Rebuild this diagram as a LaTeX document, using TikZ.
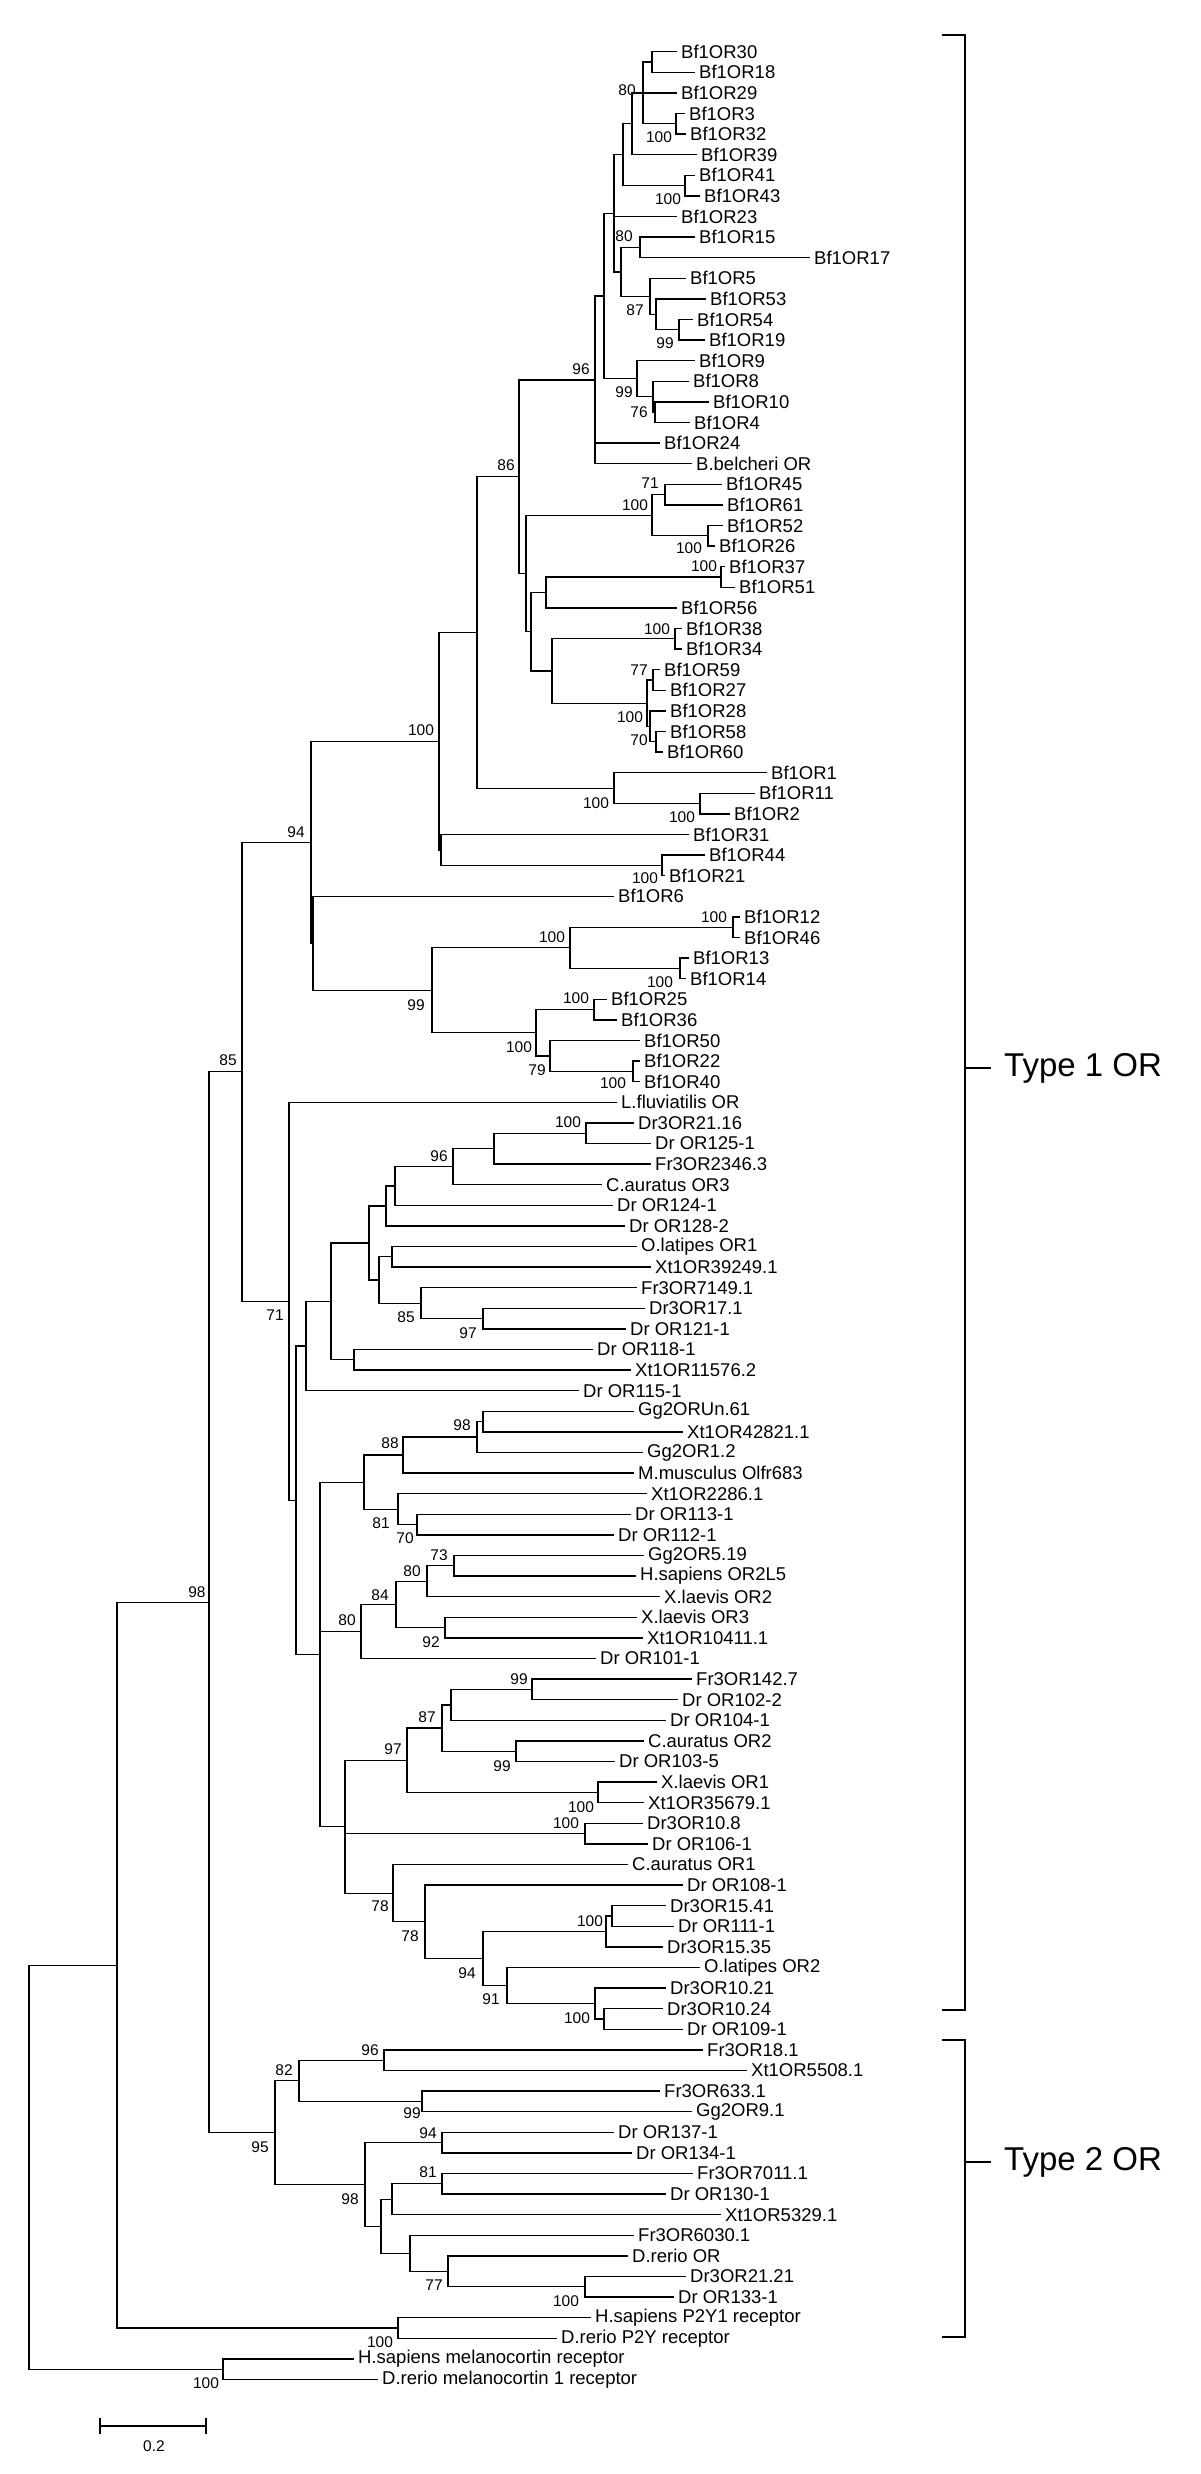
\documentclass[tikz,border=0pt]{standalone}
\usepackage{fontspec}
\setmainfont{Liberation Sans}
\newcommand\lf[4]{\coordinate (#1) at (#2,{31.1+20.6*#3}); \node[lbl] (#1t) at (#1) {#4};}
\newcommand\nd[3]{\coordinate (#1) at (#2,{31.1+20.6*(#3)});}
\newcommand\bs[4]{\node[bsl] (#1) at (#2,#3) {#4};}
\begin{document}
\begin{tikzpicture}[x=1pt,y=-1pt,
  edge/.style={line width=1.3pt,line cap=rect},
  lbl/.style={anchor=west,inner xsep=5pt,inner ysep=0pt,font=\fontsize{18.5}{20}\selectfont},
  bsl/.style={inner sep=0pt,font=\fontsize{15.5}{16}\selectfont},
  typel/.style={anchor=west,inner sep=0pt,font=\fontsize{33}{35}\selectfont}]
\useasboundingbox (0,0) rectangle (1200,2474);
% leaves
\lf{l1}{676}{1}{Bf1OR30}
\lf{l2}{694}{2}{Bf1OR18}
\lf{l3}{676}{3}{Bf1OR29}
\lf{l4}{684}{4}{Bf1OR3}
\lf{l5}{685}{5}{Bf1OR32}
\lf{l6}{696}{6}{Bf1OR39}
\lf{l7}{694}{7}{Bf1OR41}
\lf{l8}{699}{8}{Bf1OR43}
\lf{l9}{676}{9}{Bf1OR23}
\lf{l10}{694}{10}{Bf1OR15}
\lf{l11}{809}{11}{Bf1OR17}
\lf{l12}{685}{12}{Bf1OR5}
\lf{l13}{705}{13}{Bf1OR53}
\lf{l14}{692}{14}{Bf1OR54}
\lf{l15}{704}{15}{Bf1OR19}
\lf{l16}{694}{16}{Bf1OR9}
\lf{l17}{688}{17}{Bf1OR8}
\lf{l18}{708}{18}{Bf1OR10}
\lf{l19}{689}{19}{Bf1OR4}
\lf{l20}{659}{20}{Bf1OR24}
\lf{l21}{691}{21}{B.belcheri OR}
\lf{l22}{721}{22}{Bf1OR45}
\lf{l23}{722}{23}{Bf1OR61}
\lf{l24}{722}{24}{Bf1OR52}
\lf{l25}{714}{25}{Bf1OR26}
\lf{l26}{724}{26}{Bf1OR37}
\lf{l27}{734}{27}{Bf1OR51}
\lf{l28}{676}{28}{Bf1OR56}
\lf{l29}{681}{29}{Bf1OR38}
\lf{l30}{681}{30}{Bf1OR34}
\lf{l31}{659}{31}{Bf1OR59}
\lf{l32}{665}{32}{Bf1OR27}
\lf{l33}{665}{33}{Bf1OR28}
\lf{l34}{665}{34}{Bf1OR58}
\lf{l35}{662}{35}{Bf1OR60}
\lf{l36}{766}{36}{Bf1OR1}
\lf{l37}{754}{37}{Bf1OR11}
\lf{l38}{729}{38}{Bf1OR2}
\lf{l39}{688}{39}{Bf1OR31}
\lf{l40}{704}{40}{Bf1OR44}
\lf{l41}{664}{41}{Bf1OR21}
\lf{l42}{613}{42}{Bf1OR6}
\lf{l43}{739}{43}{Bf1OR12}
\lf{l44}{739}{44}{Bf1OR46}
\lf{l45}{688}{45}{Bf1OR13}
\lf{l46}{685}{46}{Bf1OR14}
\lf{l47}{606}{47}{Bf1OR25}
\lf{l48}{616}{48}{Bf1OR36}
\lf{l49}{639}{49}{Bf1OR50}
\lf{l50}{639}{50}{Bf1OR22}
\lf{l51}{639}{51}{Bf1OR40}
\lf{l52}{616}{52}{L.fluviatilis OR}
\lf{l53}{633}{53}{Dr3OR21.16}
\lf{l54}{650}{54}{Dr OR125-1}
\lf{l55}{650}{55}{Fr3OR2346.3}
\lf{l56}{601}{56}{C.auratus OR3}
\lf{l57}{612}{57}{Dr OR124-1}
\lf{l58}{624}{58}{Dr OR128-2}
\lf{l59}{636}{59}{O.latipes OR1}
\lf{l60}{650}{60}{Xt1OR39249.1}
\lf{l61}{636}{61}{Fr3OR7149.1}
\lf{l62}{644}{62}{Dr3OR17.1}
\lf{l63}{625}{63}{Dr OR121-1}
\lf{l64}{592}{64}{Dr OR118-1}
\lf{l65}{630}{65}{Xt1OR11576.2}
\lf{l66}{578}{66}{Dr OR115-1}
\lf{l67}{633}{67}{Gg2ORUn.61}
\lf{l68}{682}{68}{Xt1OR42821.1}
\lf{l69}{642}{69}{Gg2OR1.2}
\lf{l70}{633}{70}{M.musculus Olfr683}
\lf{l71}{646}{71}{Xt1OR2286.1}
\lf{l72}{630}{72}{Dr OR113-1}
\lf{l73}{613}{73}{Dr OR112-1}
\lf{l74}{643}{74}{Gg2OR5.19}
\lf{l75}{635}{75}{H.sapiens OR2L5}
\lf{l76}{659}{76}{X.laevis OR2}
\lf{l77}{636}{77}{X.laevis OR3}
\lf{l78}{642}{78}{Xt1OR10411.1}
\lf{l79}{595}{79}{Dr OR101-1}
\lf{l80}{691}{80}{Fr3OR142.7}
\lf{l81}{677}{81}{Dr OR102-2}
\lf{l82}{665}{82}{Dr OR104-1}
\lf{l83}{643}{83}{C.auratus OR2}
\lf{l84}{614}{84}{Dr OR103-5}
\lf{l85}{656}{85}{X.laevis OR1}
\lf{l86}{643}{86}{Xt1OR35679.1}
\lf{l87}{642}{87}{Dr3OR10.8}
\lf{l88}{647}{88}{Dr OR106-1}
\lf{l89}{627}{89}{C.auratus OR1}
\lf{l90}{682}{90}{Dr OR108-1}
\lf{l91}{665}{91}{Dr3OR15.41}
\lf{l92}{673}{92}{Dr OR111-1}
\lf{l93}{662}{93}{Dr3OR15.35}
\lf{l94}{699}{94}{O.latipes OR2}
\lf{l95}{665}{95}{Dr3OR10.21}
\lf{l96}{662}{96}{Dr3OR10.24}
\lf{l97}{682}{97}{Dr OR109-1}
\lf{l98}{702}{98}{Fr3OR18.1}
\lf{l99}{746}{99}{Xt1OR5508.1}
\lf{l100}{659}{100}{Fr3OR633.1}
\lf{l101}{691}{101}{Gg2OR9.1}
\lf{l102}{613}{102}{Dr OR137-1}
\lf{l103}{631}{103}{Dr OR134-1}
\lf{l104}{692}{104}{Fr3OR7011.1}
\lf{l105}{665}{105}{Dr OR130-1}
\lf{l106}{720}{106}{Xt1OR5329.1}
\lf{l107}{633}{107}{Fr3OR6030.1}
\lf{l108}{627}{108}{D.rerio OR}
\lf{l109}{685}{109}{Dr3OR21.21}
\lf{l110}{673}{110}{Dr OR133-1}
\lf{l111}{590}{111}{H.sapiens P2Y1 receptor}
\lf{l112}{556}{112}{D.rerio P2Y receptor}
\lf{l113}{353}{113}{H.sapiens melanocortin receptor}
\lf{l114}{377}{114}{D.rerio melanocortin 1 receptor}
% internal nodes
\nd{n3032}{652}{1.5}
\nd{n0332}{676}{4.5}
\nd{u}{643}{3}
\nd{v}{632}{4.5}
\nd{n4143}{685}{7.5}
\nd{w}{623}{6}
\nd{n1517}{640}{10.5}
\nd{n5419}{679}{14.5}
\nd{n87}{656}{13.75}
\nd{n5}{650}{12.875}
\nd{xx}{621}{11.6875}
\nd{yy}{614}{8.84375}
\nd{n104}{655}{18.5}
\nd{n8}{653}{17.75}
\nd{tt}{637}{16.875}
\nd{zz}{604}{12.859}
\nd{qq}{595}{16.93}
\nd{n4561}{665}{22.5}
\nd{n5226}{708}{24.5}
\nd{aa}{652}{23.5}
\nd{n3751}{721}{26.5}
\nd{ab}{546}{27.25}
\nd{n3834}{675}{29.5}
\nd{n5927}{653}{31.5}
\nd{n5860}{656}{34.5}
\nd{n28}{650}{33.75}
\nd{ad}{647}{32.625}
\nd{ac}{552}{31.06}
\nd{rtwo}{531}{29.16}
\nd{rr}{526}{26.33}
\nd{nn}{519}{21.63}
\nd{n112}{700}{37.5}
\nd{oo}{614}{36.75}
\nd{mm}{477}{29.19}
\nd{n4421}{662}{40.5}
\nd{lp}{441}{39.75}
\nd{ll}{439}{34.47}
\nd{n1246}{733}{43.5}
\nd{n1314}{680}{45.5}
\nd{gg}{570}{44.5}
\nd{n2536}{594}{47.5}
\nd{n2240}{633}{50.5}
\nd{jj}{550}{49.75}
\nd{hh}{536}{48.625}
\nd{ff}{432}{46.5625}
\nd{ee}{313}{44.28}
\nd{dd}{311}{39.375}
\nd{n100a}{586}{53.5}
\nd{xtwo}{494}{54.25}
\nd{n96}{453}{55.125}
\nd{am}{395}{56.06}
\nd{al}{386}{57.03}
\nd{nol}{392}{59.5}
\nd{n97}{483}{62.5}
\nd{n85}{421}{61.75}
\nd{an}{379}{60.625}
\nd{aj}{369}{58.83}
\nd{ak}{354}{64.5}
\nd{ai}{331}{61.66}
\nd{ag}{306}{63.83}
\nd{n6768}{483}{67.5}
\nd{n98a}{477}{68.25}
\nd{n88}{403}{69.125}
\nd{n70}{417}{72.5}
\nd{n81}{398}{71.75}
\nd{ao}{364}{70.44}
\nd{n73}{454}{74.5}
\nd{n80b}{427}{75.25}
\nd{n92}{445}{77.5}
\nd{n84}{396}{76.375}
\nd{n80}{361}{77.69}
\nd{n99a}{532}{80.5}
\nd{aq}{451}{81.25}
\nd{n99b}{516}{83.5}
\nd{n87b}{442}{82.375}
\nd{n100c}{598}{85.5}
\nd{n97b}{407}{83.94}
\nd{n100d}{585}{87.5}
\nd{n15}{612}{91.5}
\nd{n100e}{606}{92.25}
\nd{n1024}{604}{96.5}
\nd{n100f}{595}{95.75}
\nd{n91}{507}{94.875}
\nd{n94}{483}{93.56}
\nd{n78b}{425}{91.78}
\nd{n78}{393}{90.39}
\nd{ar}{345}{87.17}
\nd{ah}{320}{78.8}
\nd{af}{296}{71.32}
\nd{n71}{289}{61.66}
\nd{cc}{242}{50.52}
\nd{n96c}{384}{98.5}
\nd{n99c}{422}{100.5}
\nd{n82}{299}{99.5}
\nd{n94c}{442}{102.5}
\nd{n81c}{442}{104.5}
\nd{nat}{392}{105.25}
\nd{n100g}{585}{109.5}
\nd{n77}{448}{108.75}
\nd{nau}{410}{107.875}
\nd{nas}{381}{106.56}
\nd{n98c}{365}{104.53}
\nd{n95}{275}{102.02}
\nd{bb}{209}{76.27}
\nd{np2y}{398}{111.5}
\nd{na}{117}{93.89}
\nd{nmc}{223}{113.5}
\nd{root}{29}{103.7}
% branches
\foreach \p/\c in {n3032/l1,n3032/l2,n0332/l4,n0332/l5,u/n3032,u/l3,u/n0332,v/u,v/l6,
 n4143/l7,n4143/l8,w/v,w/n4143,n1517/l10,n1517/l11,n5419/l14,n5419/l15,n87/l13,n87/n5419,
 n5/l12,n5/n87,xx/n1517,xx/n5,yy/w,yy/l9,yy/xx,n104/l18,n104/l19,n8/l17,n8/n104,tt/l16,tt/n8,
 zz/yy,zz/tt,qq/zz,qq/l20,qq/l21,n4561/l22,n4561/l23,n5226/l24,n5226/l25,aa/n4561,aa/n5226,
 n3751/l26,n3751/l27,ab/n3751,ab/l28,n3834/l29,n3834/l30,n5927/l31,n5927/l32,n5860/l34,n5860/l35,
 n28/l33,n28/n5860,ad/n5927,ad/n28,ac/n3834,ac/ad,rtwo/ab,rtwo/ac,rr/aa,rr/rtwo,nn/qq,nn/rr,
 n112/l37,n112/l38,oo/l36,oo/n112,mm/nn,mm/oo,n4421/l40,n4421/l41,lp/l39,lp/n4421,ll/mm,ll/lp,
 n1246/l43,n1246/l44,n1314/l45,n1314/l46,gg/n1246,gg/n1314,n2536/l47,n2536/l48,n2240/l50,n2240/l51,
 jj/l49,jj/n2240,hh/n2536,hh/jj,ff/gg,ff/hh,ee/l42,ee/ff,dd/ll,dd/ee,
 n100a/l53,n100a/l54,xtwo/n100a,xtwo/l55,n96/xtwo,n96/l56,am/n96,am/l57,al/am,al/l58,
 nol/l59,nol/l60,n97/l62,n97/l63,n85/l61,n85/n97,an/nol,an/n85,aj/al,aj/an,ak/l64,ak/l65,
 ai/aj,ai/ak,ag/ai,ag/l66,n6768/l67,n6768/l68,n98a/n6768,n98a/l69,n88/n98a,n88/l70,
 n70/l72,n70/l73,n81/l71,n81/n70,ao/n88,ao/n81,n73/l74,n73/l75,n80b/n73,n80b/l76,
 n92/l77,n92/l78,n84/n80b,n84/n92,n80/n84,n80/l79,n99a/l80,n99a/l81,aq/n99a,aq/l82,
 n99b/l83,n99b/l84,n87b/aq,n87b/n99b,n100c/l85,n100c/l86,n97b/n87b,n97b/n100c,
 n100d/l87,n100d/l88,n15/l91,n15/l92,n100e/n15,n100e/l93,n1024/l96,n1024/l97,
 n100f/l95,n100f/n1024,n91/l94,n91/n100f,n94/n100e,n94/n91,n78b/l90,n78b/n94,n78/l89,n78/n78b,
 ar/n97b,ar/n100d,ar/n78,ah/ao,ah/n80,ah/ar,af/ag,af/ah,n71/l52,n71/af,cc/dd,cc/n71,
 n96c/l98,n96c/l99,n99c/l100,n99c/l101,n82/n96c,n82/n99c,n94c/l102,n94c/l103,
 n81c/l104,n81c/l105,nat/n81c,nat/l106,n100g/l109,n100g/l110,n77/l108,n77/n100g,
 nau/l107,nau/n77,nas/nat,nas/nau,n98c/n94c,n98c/nas,n95/n82,n95/n98c,bb/cc,bb/n95,
 np2y/l111,np2y/l112,na/bb,na/np2y,nmc/l113,nmc/l114,root/na,root/nmc}
 {\draw[edge] (\p) |- (\c);}
% bootstrap values
\bs{b1}{627}{90}{80}
\bs{b2}{659}{137}{100}
\bs{b3}{668}{199}{100}
\bs{b4}{624}{236}{80}
\bs{b5}{635}{310}{87}
\bs{b6}{665}{343}{99}
\bs{b7}{581}{369}{96}
\bs{b8}{624}{392}{99}
\bs{b9}{639}{412}{76}
\bs{b10}{506}{465}{86}
\bs{b11}{650}{483}{71}
\bs{b12}{635}{505}{100}
\bs{b13}{689}{548}{100}
\bs{b14}{704}{566}{100}
\bs{b15}{657}{629}{100}
\bs{b16}{639}{670}{77}
\bs{b17}{630}{717}{100}
\bs{b18}{639}{740}{70}
\bs{b19}{421}{730}{100}
\bs{b20}{596}{803}{100}
\bs{b21}{682}{817}{100}
\bs{b22}{296}{832}{94}
\bs{b23}{645}{878}{100}
\bs{b24}{714}{917}{100}
\bs{b25}{552}{937}{100}
\bs{b26}{660}{982}{100}
\bs{b27}{576}{998}{100}
\bs{b28}{416}{1005}{99}
\bs{b29}{519}{1047}{100}
\bs{b30}{228}{1060}{85}
\bs{b31}{537}{1070}{79}
\bs{b32}{613}{1083}{100}
\bs{b33}{568}{1122}{100}
\bs{b34}{439}{1156}{96}
\bs{b35}{275}{1315}{71}
\bs{b36}{406}{1317}{85}
\bs{b37}{468}{1333}{97}
\bs{b38}{462}{1425}{98}
\bs{b39}{390}{1443}{88}
\bs{b40}{381}{1523}{81}
\bs{b41}{405}{1538}{70}
\bs{b42}{439}{1555}{73}
\bs{b43}{412}{1571}{80}
\bs{b44}{380}{1595}{84}
\bs{b45}{197}{1592}{98}
\bs{b46}{347}{1620}{80}
\bs{b47}{431}{1642}{92}
\bs{b48}{519}{1679}{99}
\bs{b49}{427}{1717}{87}
\bs{b50}{393}{1749}{97}
\bs{b51}{502}{1766}{99}
\bs{b52}{581}{1807}{100}
\bs{b53}{566}{1823}{100}
\bs{b54}{380}{1906}{78}
\bs{b55}{590}{1921}{100}
\bs{b56}{410}{1936}{78}
\bs{b57}{467}{1973}{94}
\bs{b58}{491}{1999}{91}
\bs{b59}{577}{2018}{100}
\bs{b60}{370}{2050}{96}
\bs{b61}{284}{2070}{82}
\bs{b62}{412}{2113}{99}
\bs{b63}{428}{2133}{94}
\bs{b64}{260}{2147}{95}
\bs{b65}{428}{2172}{81}
\bs{b66}{350}{2199}{98}
\bs{b67}{434}{2285}{77}
\bs{b68}{566}{2301}{100}
\bs{b69}{380}{2342}{100}
\bs{b70}{206}{2383}{100}
% brackets
\coordinate (t1a) at (943,35); \coordinate (t1b) at (965,35);
\coordinate (t1c) at (965,2010); \coordinate (t1d) at (943,2010);
\coordinate (t1m) at (965,1068); \coordinate (t1e) at (990,1068);
\draw[edge] (t1a) -- (t1b) -- (t1c) -- (t1d);
\draw[edge] (t1m) -- (t1e);
\node[typel] (t1l) at (1004,1068) {Type 1 OR};
\coordinate (t2a) at (943,2040); \coordinate (t2b) at (965,2040);
\coordinate (t2c) at (965,2337); \coordinate (t2d) at (943,2337);
\coordinate (t2m) at (965,2162); \coordinate (t2e) at (990,2162);
\draw[edge] (t2a) -- (t2b) -- (t2c) -- (t2d);
\draw[edge] (t2m) -- (t2e);
\node[typel] (t2l) at (1004,2162) {Type 2 OR};
% scale bar
\coordinate (sb1) at (100,2426); \coordinate (sb2) at (206,2426);
\draw[edge] (sb1) -- (sb2);
\draw[edge] ([yshift=-7pt]sb1) -- ([yshift=7pt]sb1);
\draw[edge] ([yshift=-7pt]sb2) -- ([yshift=7pt]sb2);
\node[bsl] (sbl) at (154,2446) {0.2};
\end{tikzpicture}
\end{document}
